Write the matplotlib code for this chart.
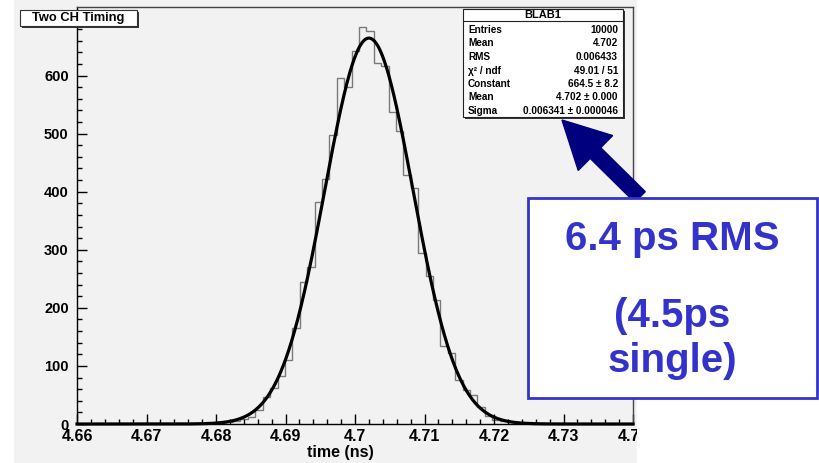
import numpy as np
import matplotlib
matplotlib.use("Agg")
import matplotlib.pyplot as plt
from matplotlib.patches import Rectangle, FancyArrow
from matplotlib.ticker import MultipleLocator

plt.rcParams["font.family"] = ["Liberation Sans", "DejaVu Sans"]
plt.rcParams["font.weight"] = "bold"

# -----------------------------
# Data
# -----------------------------
FIRST_EDGE = 4.6782      # ns, left edge of first listed bin
BIN_WIDTH = 0.001065     # ns
counts = [0, 1, 2, 3, 5, 8, 12, 24, 46, 62, 82, 110, 165, 245, 271, 383, 422,
          497, 596, 580, 642, 684, 676, 622, 616, 538, 504, 429, 406, 294, 254,
          214, 135, 122, 76, 59, 50, 29, 13, 7, 5, 3, 2, 1, 1, 0]

# gaussian fit parameters (from the stats box)
FIT_CONST = 664.5
FIT_MEAN = 4.702
FIT_SIGMA = 0.006341

x_ticks = [4.66, 4.67, 4.68, 4.69, 4.70, 4.71, 4.72, 4.73, 4.74]
x_ticklabels = ["4.66", "4.67", "4.68", "4.69", "4.7", "4.71", "4.72", "4.73", "4.74"]
y_ticks = [0, 100, 200, 300, 400, 500, 600, 700]
y_ticklabels = ["0", "100", "200", "300", "400", "500", "600", ""]  # 700 hidden under title box

hist_name = "BLAB1"
stat_names = ["Entries", "Mean", "RMS", "\u03c7\u00b2 / ndf", "Constant", "Mean", "Sigma"]
stat_values = ["10000", "4.702", "0.006433", "49.01 / 51", "664.5 \u00b1 8.2",
               "4.702 \u00b1 0.000", "0.006341 \u00b1 0.000046"]

PAD_GRAY = "#f2f2f2"
NOTE_BLUE = "#3333cc"
ARROW_NAVY = "#00007f"

W, H = 819, 463
fig = plt.figure(figsize=(W / 100, H / 100), dpi=100)
fig.patch.set_facecolor("white")

# pad background
fig.add_artist(Rectangle((14 / W, 0), 623 / W, 1, transform=fig.transFigure,
                         facecolor=PAD_GRAY, edgecolor="none", zorder=-5))

# main frame: x 77..633 px, y 7..424 px (from top)
ax = fig.add_axes([77 / W, (H - 424) / H, 556 / W, 417 / H])
ax.set_facecolor(PAD_GRAY)

edges = FIRST_EDGE + BIN_WIDTH * np.arange(len(counts) + 1)
ax.stairs(counts, edges, baseline=0, color="#7a7a7a", lw=1.0)

xf = np.linspace(4.66, 4.74, 800)
yf = FIT_CONST * np.exp(-0.5 * ((xf - FIT_MEAN) / FIT_SIGMA) ** 2)
ax.plot(xf, yf, color="black", lw=2.3, clip_on=False, zorder=3)

ax.set_xlim(4.66, 4.74)
ax.set_ylim(0, 718)
ax.set_xticks(x_ticks)
ax.set_xticklabels(x_ticklabels)
ax.set_yticks(y_ticks)
ax.set_yticklabels(y_ticklabels)
ax.xaxis.set_minor_locator(MultipleLocator(0.002))
ax.yaxis.set_minor_locator(MultipleLocator(20))
ax.tick_params(which="both", direction="in", top=False, right=False, color="black")
ax.tick_params(which="major", length=7.5, width=1)
ax.tick_params(which="minor", length=3.6, width=1)
ax.tick_params(axis="x", labelsize=11.5, pad=3.5)
ax.tick_params(axis="y", labelsize=10.5, pad=6)
for lab in ax.get_xticklabels() + ax.get_yticklabels():
    lab.set_fontweight("bold")

for side in ["left", "bottom"]:
    ax.spines[side].set_color("black")
    ax.spines[side].set_linewidth(1.0)
for side in ["top", "right"]:
    ax.spines[side].set_color("#444444")
    ax.spines[side].set_linewidth(1.0)

ax.set_xlabel("time (ns)", fontsize=11.5, fontweight="bold")
ax.xaxis.set_label_coords(0.473, -0.05)

# overlay in pixel coordinates for boxes and annotation
ov = fig.add_axes([0, 0, 1, 1], zorder=5)
ov.set_xlim(0, W)
ov.set_ylim(H, 0)
ov.axis("off")

# crop to the right of the pad
ov.add_patch(Rectangle((637, 0), W - 637, H, facecolor="white", edgecolor="none", zorder=0))

# title box
ov.add_patch(Rectangle((22, 12), 117, 16, facecolor="#333333", edgecolor="none", zorder=1))
ov.add_patch(Rectangle((20, 10), 117, 16, facecolor="white", edgecolor="#333333", lw=0.8, zorder=2))
ov.text(78.5, 18.5, "Two CH Timing", fontsize=9.3, fontweight="bold", ha="center", va="center", zorder=3)

# stats box
ov.add_patch(Rectangle((465, 11), 160, 108, facecolor="#333333", edgecolor="none", zorder=1))
ov.add_patch(Rectangle((463, 9), 160, 108, facecolor="white", edgecolor="#222222", lw=0.8, zorder=2))
ov.plot([463, 623], [21, 21], color="#222222", lw=0.8, zorder=3)
ov.text(543, 15.5, hist_name, fontsize=8, fontweight="bold", ha="center", va="center", zorder=3)
for i, (nm, val) in enumerate(zip(stat_names, stat_values)):
    yy = 30 + i * 13.5
    ov.text(468, yy, nm, fontsize=7.2, fontweight="bold", ha="left", va="center", zorder=3)
    ov.text(618, yy, val, fontsize=7.2, fontweight="bold", ha="right", va="center", zorder=3)

# arrow to the sigma entry
ov.add_patch(FancyArrow(640, 197, -78, -77, width=15, head_width=49, head_length=47,
                        length_includes_head=True, color=ARROW_NAVY, zorder=4))

# annotation box
ov.add_patch(Rectangle((528, 198), 289, 200, facecolor="white", edgecolor=NOTE_BLUE, lw=2, zorder=5))
ov.text(672.5, 250, "6.4 ps RMS", fontsize=29, fontweight="bold", color=NOTE_BLUE,
        ha="center", va="baseline", zorder=6)
ov.text(672.5, 327, "(4.5ps", fontsize=29, fontweight="bold", color=NOTE_BLUE,
        ha="center", va="baseline", zorder=6)
ov.text(672.5, 372, "single)", fontsize=29, fontweight="bold", color=NOTE_BLUE,
        ha="center", va="baseline", zorder=6)

fig.savefig("out.png", dpi=100, facecolor=fig.get_facecolor())
